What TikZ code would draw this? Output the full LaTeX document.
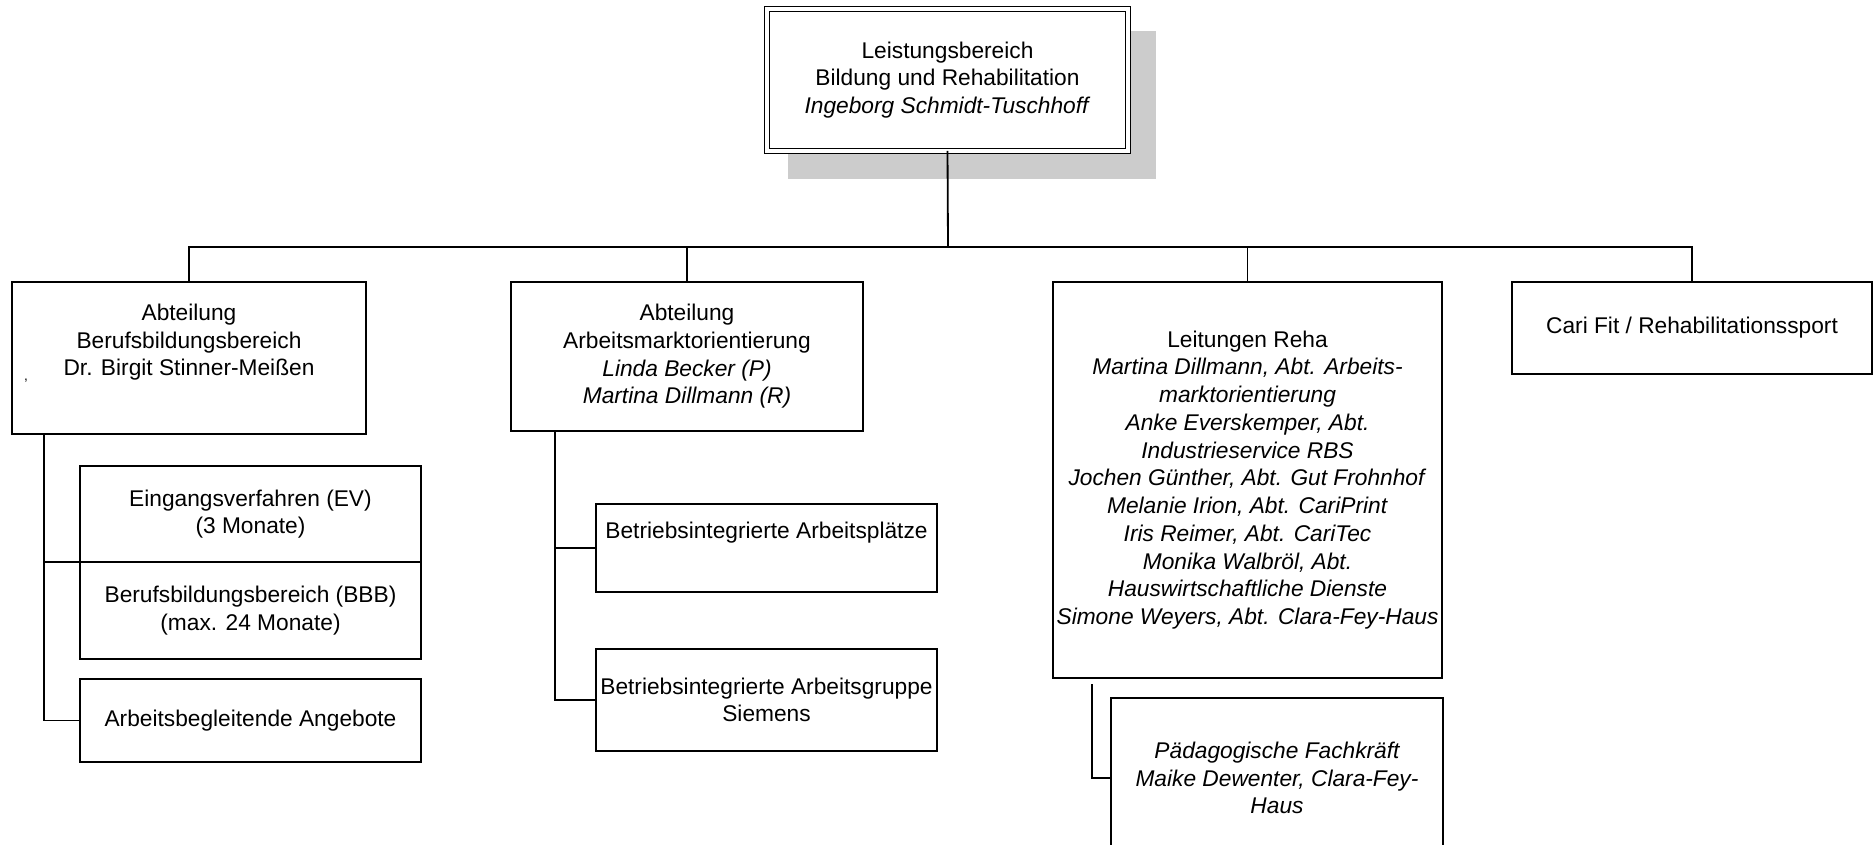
\documentclass[tikz,border=0pt]{standalone}
\usepackage{fontspec}
\setmainfont{Liberation Sans}
\usetikzlibrary{positioning}

\newcommand{\pu}{0.44pt}

\begin{document}
\begin{tikzpicture}[x=\pu,y=-\pu,
    font=\fontsize{10}{12.2}\selectfont,
    box/.style={draw, line width=0.8pt, fill=white, align=center, inner sep=1pt, outer sep=0pt, anchor=north west},
    itbox/.style={box, font=\fontsize{10}{12.2}\selectfont\itshape},
    sz/.style 2 args={minimum width=#1*\pu, minimum height=#2*\pu},
    link/.style={line width=0.8pt}]

    \useasboundingbox (0,0) rectangle (1874,845);

    % Leistungsbereich
    \fill[black!20] (788,31) rectangle (1156,179);
    \node[box, double, double distance=1.8pt, line width=0.6pt, sz={361}{142}] (lb) at (767,9)
        {Leistungsbereich\\Bildung und Rehabilitation\\\textit{Ingeborg Schmidt-Tuschhoff}};

    % Abteilungen
    \node[box, sz={354}{152}] (bbb) at (12,282)
        {Abteilung\\Berufsbildungsbereich\\Dr. Birgit Stinner-Meißen\\\strut};
    \node[box, sz={352}{149}] (amo) at (511,282)
        {Abteilung\\Arbeitsmarktorientierung\\\textit{Linda Becker (P)}\\\textit{Martina Dillmann (R)}};
    \node[box, sz={389}{396}] (reha) at (1053,282)
        {Leitungen Reha\\\textit{Martina Dillmann, Abt. Arbeits-}\\\textit{marktorientierung}\\
         \textit{Anke Everskemper, Abt.}\\\textit{Industrieservice RBS}\\
         \textit{Jochen Günther, Abt. Gut Frohnhof}\\\textit{Melanie Irion, Abt. CariPrint}\\
         \textit{Iris Reimer, Abt. CariTec}\\\textit{Monika Walbröl, Abt.}\\
         \textit{Hauswirtschaftliche Dienste}\\\textit{Simone Weyers, Abt. Clara-Fey-Haus}};
    \node[box, sz={360}{92}] (fit) at (1512,282) {Cari Fit / Rehabilitationssport};

    % Unterbereiche
    \node[box, sz={341}{96}] (ev) at (80,466) {Eingangsverfahren (EV)\\(3 Monate)};
    \node[box, sz={341}{97}, below=0pt of ev] (bb) {Berufsbildungsbereich (BBB)\\(max. 24 Monate)};
    \node[box, sz={341}{83}] (aba) at (80,679) {Arbeitsbegleitende Angebote};

    \node[box, sz={341}{88}] (bap) at (596,504) {Betriebsintegrierte Arbeitsplätze\\\strut};
    \node[box, sz={341}{102}] (bag) at (596,649) {Betriebsintegrierte Arbeitsgruppe\\Siemens};

    \node[itbox, sz={332}{160}] (paed) at (1111,698)
        {Pädagogische Fachkräft\\Maike Dewenter, Clara-Fey-\\Haus};

    \node[font=\fontsize{6}{6}\selectfont, inner sep=0pt] (mk) at (26,381) {,};

    % Verbindungen
    \coordinate (bus) at (948,247);
    \draw[link] (lb.south) -- (bus);
    \draw[link] (bbb.north) |- (bus) -| (fit.north);
    \draw[link] (amo.north) -- (amo.north |- bus);
    \draw[link] (reha.north) -- (reha.north |- bus);

    \coordinate (bbbtr) at (44,434);
    \draw[link] (bbbtr) |- (aba.west);
    \draw[link] (bbbtr |- ev.south west) -- (ev.south west);
    \coordinate (amotr) at (555,431);
    \draw[link] (amotr) |- (bag.west);
    \draw[link] (amotr |- bap.west) -- (bap.west);
    \coordinate (rehatr) at (1092,684);
    \draw[link] (rehatr) |- (paed.west);

\end{tikzpicture}
\end{document}
